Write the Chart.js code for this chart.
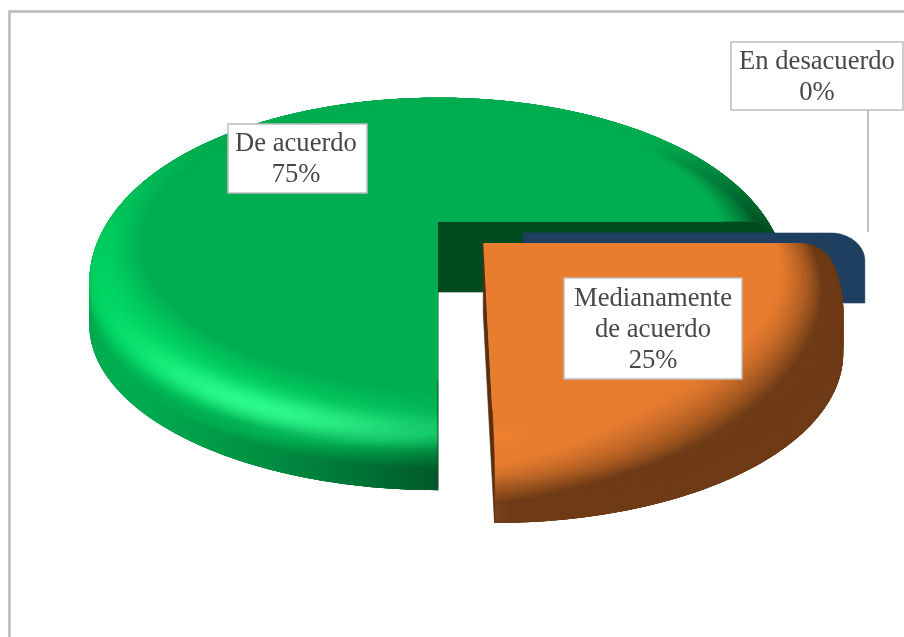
<!DOCTYPE html>
<html>
<head>
<meta charset="utf-8">
<title>Grado de acuerdo</title>
<script src="https://cdn.jsdelivr.net/npm/chart.js@4/dist/chart.umd.min.js"></script>
<style>
  html, body { margin: 0; padding: 0; background: #fff; }
  canvas { display: block; }
</style>
</head>
<body>
<canvas id="pieChart" width="904" height="637"></canvas>
<script>
// Slices run clockwise from six o'clock
const categories = ['De acuerdo', 'En desacuerdo', 'Medianamente de acuerdo'];
const percentages = [75, 0, 25];
const sliceColors = ['#00ad50', '#1f3f60', '#e97d2f'];
const wallColors = ['#004a20', '#1f3f60', '#5a2f0e'];
const explode = [0, 49, 36];

// Label boxes, one per slice: lines of text are built from the arrays above
const labelLines = [['De acuerdo'], ['En desacuerdo'], ['Medianamente', 'de acuerdo']];
const labelBoxes = [
  { x: 228, y: 124, w: 139, h: 69, cx: 296, base: 151 },
  { x: 731, y: 42, w: 172, h: 68, cx: 817, base: 69 },
  { x: 564, y: 278, w: 178, h: 101, cx: 653, base: 306 }
];

// Perspective of the pie plane
const SCALE_X = 342;
const SCALE_Y = 159.5;
const PERSPECTIVE = 0.195;
// Rounded edge profile of the solid
const FACE_RADIUS = 0.9;
const BEVEL_DEPTH = 28;
const DEPTH = 70;
// Zero slice sits a little lower than the plane centre
const ZERO_DROP = 11;

function project(arc, ux, uy, z) {
  const w = 1 / (1 - PERSPECTIVE * uy);
  return [arc.x + SCALE_X * ux * w, arc.y + SCALE_Y * uy * w + z];
}

const rad = Math.PI / 180;

// Points across the edge. tilt is the angle of the surface used for shading:
// it eases in on the flat top and only reaches vertical part way down the side.
function profile() {
  const pts = [];
  for (let i = 0; i < 8; i++) {
    pts.push({ r: 0.82 + (FACE_RADIUS - 0.82) * i / 8, z: 0, tilt: 20 * rad * i / 8 });
  }
  for (let i = 0; i <= 20; i++) {
    const phi = (i / 20) * Math.PI / 2;
    pts.push({
      r: FACE_RADIUS + (1 - FACE_RADIUS) * Math.sin(phi),
      z: BEVEL_DEPTH * (1 - Math.cos(phi)),
      tilt: (20 + 52 * i / 20) * rad
    });
  }
  for (let i = 1; i <= 12; i++) {
    pts.push({
      r: 1,
      z: BEVEL_DEPTH + (48 - BEVEL_DEPTH) * i / 12,
      tilt: (72 + 18 * i / 12) * rad
    });
  }
  pts.push({ r: 1, z: DEPTH, tilt: 90 * rad });
  return pts;
}

function hexToRgb(hex) {
  return [1, 3, 5].map(i => parseInt(hex.substr(i, 2), 16));
}

// Light comes from the front left and above, with a soft highlight on the rim
function shade(rgb, theta, tilt) {
  const nx = Math.cos(theta), ny = Math.sin(theta);
  let k = Math.sin(tilt) * (-0.85 * nx + 0.5 * ny) + Math.cos(tilt);
  const floor = 0.47 + 0.53 * Math.min(1, Math.max(0, -ny * 1.6));
  k = Math.max(floor, k);
  if (k > 1) k = 1 + Math.max(0, k - 1.08) * 0.7;
  const da = (theta - 113 * rad) / (26 * rad);
  const dt = (tilt - 52 * rad) / (15 * rad);
  const spot = Math.exp(-da * da - dt * dt);
  k += spot * 0.3;
  const glow = spot * 0.18;
  return 'rgb(' + rgb.map(c => {
    const v = Math.min(255, c * k);
    return Math.round(v + (255 - v) * glow);
  }).join(',') + ')';
}

function fillPoly(ctx, pts, color, outline) {
  ctx.beginPath();
  pts.forEach((p, i) => (i ? ctx.lineTo(p[0], p[1]) : ctx.moveTo(p[0], p[1])));
  ctx.closePath();
  ctx.fillStyle = color;
  ctx.fill();
  if (outline) {
    ctx.strokeStyle = color;
    ctx.lineWidth = 0.6;
    ctx.stroke();
  }
}

// Radial wall of a slice at angle theta, from the centre out along the edge profile
function drawWall(ctx, arc, ox, oy, theta, color, drop) {
  const c = Math.cos(theta), s = Math.sin(theta);
  const pts = [project(arc, ox, oy, drop)];
  profile().forEach(p => pts.push(project(arc, ox + c * p.r, oy + s * p.r, p.z + drop)));
  pts.push(project(arc, ox, oy, DEPTH + drop));
  fillPoly(ctx, pts, color, true);
}

function drawSlice(ctx, arc, index) {
  const start = arc.startAngle, end = arc.endAngle;
  const mid = (start + end) / 2;
  const off = (arc.options.offset || 0) / arc.outerRadius;
  const ox = Math.cos(mid) * off, oy = Math.sin(mid) * off;
  const base = hexToRgb(sliceColors[index]);

  if (end - start < 0.001) {
    drawWall(ctx, arc, ox, oy, start, wallColors[index], ZERO_DROP);
    return;
  }

  // rounded edge and side, painted from the bottom upward; each quad reaches
  // into its neighbours so no seams show
  const prof = profile();
  const steps = Math.ceil((end - start) / (Math.PI / 300));
  const dt = (end - start) / steps;
  for (let j = prof.length - 2; j >= 0; j--) {
    const a = prof[j], b = prof[j + 1];
    const low = prof[Math.min(j + 2, prof.length - 1)];
    for (let i = 0; i < steps; i++) {
      const t0 = start + dt * i;
      const t1 = Math.min(end, t0 + dt * 2);
      fillPoly(ctx, [
        project(arc, ox + Math.cos(t0) * a.r, oy + Math.sin(t0) * a.r, a.z),
        project(arc, ox + Math.cos(t1) * a.r, oy + Math.sin(t1) * a.r, a.z),
        project(arc, ox + Math.cos(t1) * low.r, oy + Math.sin(t1) * low.r, low.z),
        project(arc, ox + Math.cos(t0) * low.r, oy + Math.sin(t0) * low.r, low.z)
      ], shade(base, t0 + dt / 2, (a.tilt + b.tilt) / 2), false);
    }
  }

  // cut walls that face the viewer
  if (Math.sin(start - Math.PI / 2) > -0.01) drawWall(ctx, arc, ox, oy, start, wallColors[index], 0);
  if (Math.sin(end + Math.PI / 2) > -0.01) drawWall(ctx, arc, ox, oy, end, wallColors[index], 0);

  // flat top, laid slightly over the first band of the edge
  const face = [project(arc, ox, oy, 0)];
  for (let i = 0; i <= steps; i++) {
    const t = start + dt * i;
    face.push(project(arc, ox + Math.cos(t) * prof[1].r, oy + Math.sin(t) * prof[1].r, 0));
  }
  fillPoly(ctx, face, sliceColors[index], false);
}

const solidPie = {
  id: 'solidPie',
  beforeDraw(chart) {
    const ctx = chart.ctx;
    ctx.save();
    ctx.fillStyle = '#fff';
    ctx.fillRect(0, 0, chart.width, chart.height);
    // frame of the chart area
    ctx.strokeStyle = '#b8b8b8';
    ctx.lineWidth = 2.5;
    ctx.beginPath();
    ctx.moveTo(9.5, chart.height);
    ctx.lineTo(9.5, 11.5);
    ctx.lineTo(chart.width, 11.5);
    ctx.stroke();
    ctx.restore();
  },
  beforeDatasetsDraw(chart) {
    const ctx = chart.ctx;
    const arcs = chart.getDatasetMeta(0).data;
    ctx.save();
    [0, 1, 2].forEach(i => drawSlice(ctx, arcs[i], i));
    ctx.restore();
    return false;
  },
  afterDraw(chart) {
    const ctx = chart.ctx;
    ctx.save();
    // leader from the zero slice label
    ctx.strokeStyle = '#aaaaaa';
    ctx.lineWidth = 1.5;
    ctx.beginPath();
    ctx.moveTo(868, 110);
    ctx.lineTo(868, 232);
    ctx.stroke();

    ctx.textAlign = 'center';
    ctx.textBaseline = 'alphabetic';
    ctx.font = '26.6px "Liberation Serif", serif';
    labelBoxes.forEach((box, i) => {
      ctx.fillStyle = '#fff';
      ctx.fillRect(box.x, box.y, box.w, box.h);
      ctx.strokeStyle = '#bdbdbd';
      ctx.lineWidth = 1.5;
      ctx.strokeRect(box.x, box.y, box.w, box.h);
      ctx.fillStyle = '#484848';
      const lines = labelLines[i].concat(percentages[i] + '%');
      lines.forEach((line, n) => ctx.fillText(line, box.cx, box.base + n * 31));
    });
    ctx.restore();
  }
};

new Chart(document.getElementById('pieChart'), {
  type: 'pie',
  data: {
    labels: categories,
    datasets: [{
      data: percentages,
      backgroundColor: sliceColors,
      offset: explode,
      borderWidth: 0
    }]
  },
  options: {
    responsive: false,
    animation: false,
    rotation: 180,
    layout: { padding: { left: 0, right: 28, top: 0, bottom: 193 } },
    plugins: {
      legend: { display: false },
      tooltip: { enabled: false }
    }
  },
  plugins: [solidPie]
});
</script>
</body>
</html>
